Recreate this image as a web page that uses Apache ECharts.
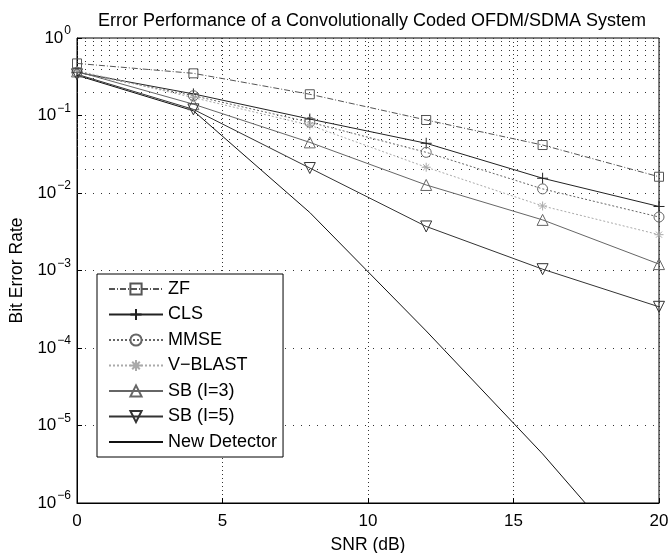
<!DOCTYPE html>
<html>
<head>
<meta charset="utf-8">
<script src="https://cdn.jsdelivr.net/npm/echarts@6/dist/echarts.min.js"></script>
<style>
  html, body { margin: 0; padding: 0; background: #fff; }
  #chart { width: 671px; height: 553px; }
</style>
</head>
<body>
<div id="chart"></div>
<script>
// SNR points (dB)
var snr = [0, 4, 8, 12, 16, 20];

// bit error rate per detector
var zf      = [0.47, 0.35, 0.188, 0.0875, 0.0416, 0.0162];
var cls     = [0.36, 0.19, 0.09, 0.0438, 0.0155, 0.0067];
var mmse    = [0.36, 0.18, 0.082, 0.0335, 0.0113, 0.0049];
var vblast  = [0.38, 0.17, 0.075, 0.0215, 0.0068, 0.0029];
var sb3     = [0.37, 0.14, 0.045, 0.0127, 0.0045, 0.00121];
var sb5     = [0.34, 0.12, 0.021, 0.0037, 0.00104, 0.00034];
var newDet  = [0.33, 0.115, 0.0056, 0.000166, 0.0000043, 0.00000008];

var names = ['ZF', 'CLS', 'MMSE', 'V\u2212BLAST', 'SB (I=3)', 'SB (I=5)', 'New Detector'];

// minor grid rows of the log axis (2..9 x each decade)
var minorRows = [];
for (var e = -6; e < 0; e++) {
  for (var m = 2; m <= 9; m++) minorRows.push(m * Math.pow(10, e));
}

var FONT = 'Liberation Sans';
var plus = 'path://M5,0 L5,10 M0,5 L10,5';
var star = 'path://M5,0 L5,10 M0,5 L10,5 M1.6,1.6 L8.4,8.4 M8.4,1.6 L1.6,8.4';

function pairs(ys) {
  return snr.map(function (x, i) { return [x, ys[i]]; });
}

function line(name, ys, color, type, symbol, size, extra) {
  var s = {
    name: name,
    type: 'line',
    data: pairs(ys),
    symbol: symbol,
    symbolSize: size,
    lineStyle: { color: color, width: 1, type: type },
    itemStyle: { color: 'rgba(0,0,0,0)', borderColor: color, borderWidth: 1 },
    emphasis: { disabled: true },
    animation: false,
    z: 5
  };
  for (var k in extra) s[k] = extra[k];
  return s;
}

var series = [
  line(names[0], zf, '#555', [6, 2, 1, 2], 'rect', 9),
  line(names[1], cls, '#222', 'solid', plus, 11),
  line(names[2], mmse, '#666', [2, 2], 'circle', 10),
  line(names[3], vblast, '#aaa', [2, 2], star, 9),
  line(names[4], sb3, '#666', 'solid', 'triangle', 11),
  line(names[5], sb5, '#333', 'solid', 'triangle', 11, { symbolRotate: 180 }),
  line(names[6], newDet, '#111', 'solid', 'circle', 0, { showSymbol: false })
];

// dotted minor grid rows, placed through the y scale
series.push({
  type: 'line',
  data: [],
  silent: true,
  markLine: {
    silent: true,
    symbol: 'none',
    label: { show: false },
    animation: false,
    lineStyle: { color: '#333', type: [1, 7], width: 1 },
    data: minorRows.map(function (v) { return { yAxis: v }; })
  }
});

var legendData = names.map(function (n, i) {
  if (i === 6) {
    return { name: n, itemStyle: { color: 'rgba(0,0,0,0)', borderColor: 'rgba(0,0,0,0)', borderWidth: 0 } };
  }
  return { name: n };
});

var chart = echarts.init(document.getElementById('chart'));
chart.setOption({
  backgroundColor: '#fff',
  animation: false,
  title: {
    text: 'Error Performance of a Convolutionally Coded OFDM/SDMA System',
    left: 367,
    top: 7,
    textAlign: 'center',
    textStyle: { fontFamily: FONT, fontSize: 18, fontWeight: 'normal', color: '#000' }
  },
  grid: {
    left: 77, right: 12, top: 38, bottom: 50,
    outerBoundsMode: 'none',
    containLabel: false,
    show: true, borderColor: '#000', borderWidth: 1
  },
  legend: {
    data: legendData,
    orient: 'vertical',
    left: 97,
    top: 274,
    padding: [6, 6, 6, 11],
    itemWidth: 54,
    itemHeight: 14,
    itemGap: 7.5,
    backgroundColor: '#fff',
    borderColor: '#000',
    borderWidth: 1,
    selectedMode: false,
    textStyle: { fontFamily: FONT, fontSize: 18, color: '#000' }
  },
  xAxis: {
    type: 'value',
    min: 0, max: 20, interval: 5,
    name: 'SNR (dB)',
    nameLocation: 'middle',
    nameGap: 33,
    nameTextStyle: { fontFamily: FONT, fontSize: 17.5, color: '#000' },
    axisLine: { lineStyle: { color: '#000' } },
    axisTick: { inside: true, length: 5, lineStyle: { color: '#000' } },
    axisLabel: { fontFamily: FONT, fontSize: 17, color: '#000', margin: 10 },
    splitLine: { show: true, lineStyle: { color: '#333', type: [1, 3] } }
  },
  yAxis: {
    type: 'log',
    logBase: 10,
    min: 1e-6, max: 1,
    splitNumber: 6,
    name: 'Bit Error Rate',
    nameLocation: 'middle',
    nameGap: 43,
    nameTextStyle: { fontFamily: FONT, fontSize: 17.5, color: '#000' },
    axisLine: { show: true, lineStyle: { color: '#000' } },
    axisTick: { show: true, inside: true, length: 5, lineStyle: { color: '#000' } },
    axisLabel: {
      margin: 6,
      formatter: function (v) {
        var p = Math.round(Math.log10(v));
        return '{b|10}{e|' + (p < 0 ? '\u2212' + (-p) : p) + '}';
      },
      rich: {
        b: { fontFamily: FONT, fontSize: 17, color: '#000', verticalAlign: 'middle' },
        e: { fontFamily: FONT, fontSize: 12, color: '#000', verticalAlign: 'middle', padding: [0, 0, 14, 1] }
      }
    },
    splitLine: { show: true, lineStyle: { color: '#333', type: [1, 7] } }
  },
  series: series
});
</script>
</body>
</html>
